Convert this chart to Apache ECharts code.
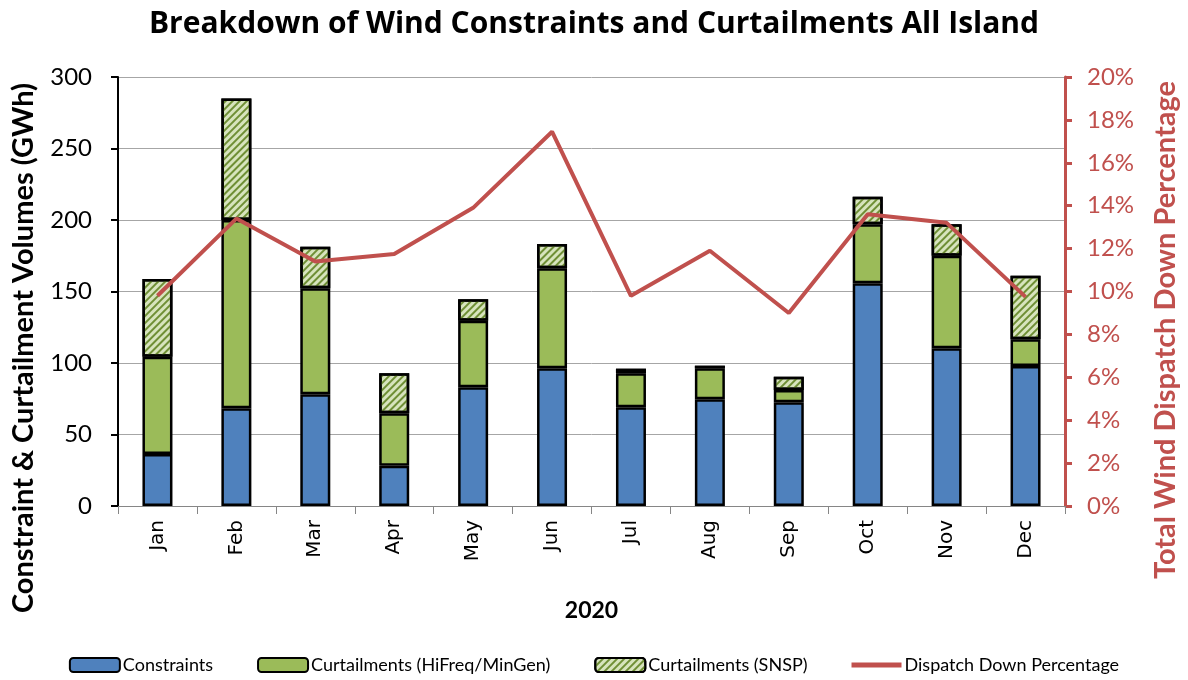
<!DOCTYPE html>
<html>
<head>
<meta charset="utf-8">
<script src="https://cdn.jsdelivr.net/npm/echarts@6/dist/echarts.min.js"></script>
<style>html,body{margin:0;padding:0;background:#fff;}#c{width:1188px;height:680px;}</style>
</head>
<body>
<div id="c"></div>
<script>
const months = ['Jan','Feb','Mar','Apr','May','Jun','Jul','Aug','Sep','Oct','Nov','Dec'];
const constraints = [36.4, 68.3, 78.1, 28.2, 83.0, 96.3, 69.0, 74.6, 72.5, 155.7, 110.3, 97.9];
const hiFreq = [68.0, 131.7, 74.1, 36.6, 46.6, 69.9, 23.8, 21.7, 8.6, 41.3, 64.7, 18.7];
const snsp = [54.3, 85.0, 29.1, 28.0, 14.9, 17.0, 3.2, 1.8, 9.3, 19.3, 22.0, 44.5];
const dispatchPct = [9.8, 13.4, 11.4, 11.75, 13.9, 17.45, 9.8, 11.9, 9.0, 13.6, 13.2, 9.75];
const leftTicks = [0, 50, 100, 150, 200, 250, 300];
const rightTicks = [0, 2, 4, 6, 8, 10, 12, 14, 16, 18, 20];
const leftTitle = 'Constraint & Curtailment Volumes (GWh)';
const rightTitle = 'Total Wind Dispatch Down Percentage';

const F = "Lato, 'Open Sans', sans-serif";
const RED = '#c0504d';
const chart = echarts.init(document.getElementById('c'));
const barBase = {
  type: 'bar', stack: 'total', barWidth: 30,
  emphasis: {disabled: true}
};
chart.setOption({
  animation: false,
  title: {
    text: 'Breakdown of Wind Constraints and Curtailments All Island',
    left: 'center', top: 4,
    textStyle: {fontFamily: "'Open Sans', sans-serif", fontWeight: 'bold', fontSize: 30, color: '#000'}
  },
  grid: {left: 118, right: 123, top: 77, bottom: 174, outerBoundsMode: 'none', containLabel: false},
  graphic: [
    {type: 'text', x: 24, y: 348, rotation: Math.PI / 2, silent: true,
      style: {text: leftTitle, align: 'center', verticalAlign: 'middle', fill: '#000',
        font: "bold 29px Lato, 'Open Sans', sans-serif"}},
    {type: 'text', x: 1166, y: 330, rotation: Math.PI / 2, silent: true,
      style: {text: rightTitle, align: 'center', verticalAlign: 'middle', fill: RED,
        font: "bold 29px Lato, 'Open Sans', sans-serif"}}
  ],
  legend: {
    bottom: 1, left: 'center', itemWidth: 50, itemHeight: 14, itemGap: 44,
    textStyle: {fontFamily: F, fontSize: 18, color: '#000', padding: [0, 0, 0, -2]},
    data: [
      'Constraints', 'Curtailments (HiFreq/MinGen)', 'Curtailments (SNSP)',
      {name: 'Dispatch Down Percentage',
        icon: 'path://M0,0L0.01,0L0,0.01Z M0,4.5L50,4.5L50,9.5L0,9.5Z M50,14L49.99,14L50,13.99Z',
        itemStyle: {color: RED, borderWidth: 0}}
    ]
  },
  xAxis: {
    type: 'category', data: months,
    name: '2020', nameLocation: 'middle', nameGap: 93,
    nameTextStyle: {fontFamily: F, fontWeight: 'bold', fontSize: 23, color: '#000'},
    axisLine: {lineStyle: {color: '#868686', width: 1}},
    axisTick: {show: true, length: 8, lineStyle: {color: '#868686'}},
    axisLabel: {rotate: 90, fontFamily: 'DejaVu Sans', fontSize: 20, color: '#000', margin: 14}
  },
  yAxis: [{
    type: 'value', min: 0, max: 300, interval: 50,
    axisLine: {show: true, lineStyle: {color: '#000', width: 2}},
    axisTick: {show: true, length: 7, lineStyle: {color: '#000', width: 2}},
    axisLabel: {fontFamily: F, fontSize: 24, color: '#000', margin: 26,
      formatter: v => leftTicks.includes(v) ? String(v) : ''},
    splitLine: {lineStyle: {color: '#a6a6a6', width: 1}}
  }, {
    type: 'value', min: 0, max: 20, interval: 2,
    axisLine: {show: true, lineStyle: {color: RED, width: 3}},
    axisTick: {show: true, length: 7, lineStyle: {color: RED, width: 3}},
    axisLabel: {fontFamily: F, fontSize: 24, color: RED, margin: 22,
      formatter: v => rightTicks.includes(v) ? v + '%' : ''},
    splitLine: {show: false}
  }],
  series: [
    Object.assign({}, barBase, {
      name: 'Constraints', data: constraints,
      itemStyle: {color: '#4f81bd', borderColor: '#000', borderWidth: 2.5}
    }),
    Object.assign({}, barBase, {
      name: 'Curtailments (HiFreq/MinGen)', data: hiFreq,
      itemStyle: {color: '#9bbb59', borderColor: '#000', borderWidth: 2.5}
    }),
    Object.assign({}, barBase, {
      name: 'Curtailments (SNSP)', data: snsp,
      itemStyle: {color: '#d7e4bd', borderColor: '#000', borderWidth: 2.5,
        decal: {symbol: 'rect', symbolSize: 1, color: '#6f8f35', dashArrayX: [1, 0], dashArrayY: [2, 3], rotation: -Math.PI / 4}}
    }),
    {
      name: 'Dispatch Down Percentage', type: 'line', yAxisIndex: 1, data: dispatchPct,
      symbol: 'none', lineStyle: {color: RED, width: 4}, itemStyle: {color: RED},
      emphasis: {disabled: true}, z: 5
    }
  ]
});
</script>
</body>
</html>
